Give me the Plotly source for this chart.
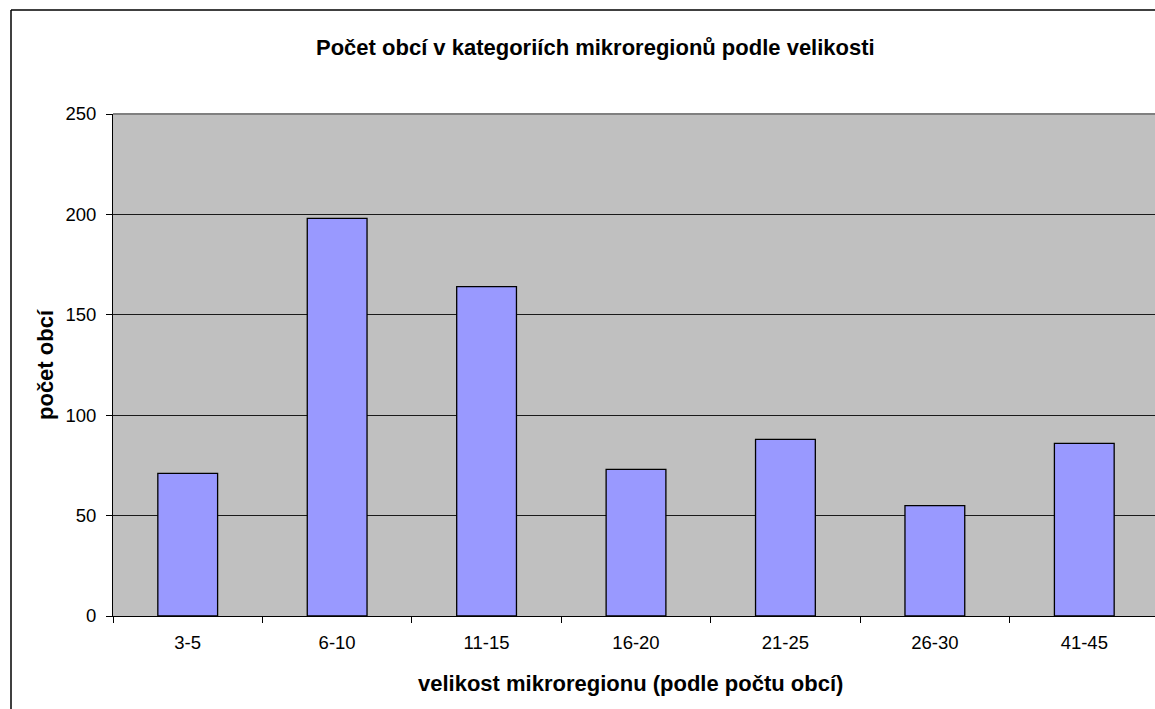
import plotly.graph_objects as go

categories = ["3-5", "6-10", "11-15", "16-20", "21-25", "26-30", "41-45"]
values = [71, 198, 164, 73, 88, 55, 86]
y_ticks = [0, 50, 100, 150, 200, 250]

W, H = 1155, 709
L, T, B, R = 113, 114, 93, 0
pw = W - L - R
ph = H - T - B

fig = go.Figure()
fig.add_trace(go.Bar(
    x=categories, y=values, width=0.4,
    marker=dict(color="#9999FF", line=dict(color="#000000", width=1.3)),
))

def px2x(px):
    return (px - L) / pw

def py2y(py):
    return (H - B - py) / ph

FONT = "Liberation Sans, Arial, sans-serif"

fig.update_layout(
    width=W, height=H,
    margin=dict(l=L, r=R, t=T, b=B, pad=0),
    paper_bgcolor="white",
    plot_bgcolor="#C0C0C0",
    showlegend=False,
    font=dict(family=FONT, color="black", size=18),
    bargap=0.6,
)
fig.add_annotation(text="<b>Počet obcí v kategoriích mikroregionů podle velikosti</b>",
                   xref="paper", yref="paper", x=px2x(595), y=py2y(48),
                   xanchor="center", yanchor="middle", showarrow=False,
                   font=dict(size=22, family=FONT))
fig.add_annotation(text="<b>velikost mikroregionu (podle počtu obcí)</b>",
                   xref="paper", yref="paper", x=px2x(630), y=py2y(684),
                   xanchor="center", yanchor="middle", showarrow=False,
                   font=dict(size=22, family=FONT))
fig.add_annotation(text="<b>počet obcí</b>", textangle=-90,
                   xref="paper", yref="paper", x=px2x(45), y=py2y(365),
                   xanchor="center", yanchor="middle", showarrow=False,
                   font=dict(size=22, family=FONT))
fig.update_xaxes(
    range=[-0.5, 6.5 - 4 / 149.3],
    showline=True, linecolor="black", linewidth=1,
    ticks="outside", tickson="boundaries", ticklen=6, tickcolor="black", tickwidth=1,
    showgrid=False,
    tickfont=dict(size=18.5),
    ticklabelstandoff=10,
)
fig.update_yaxes(
    range=[0, 250], tickvals=y_ticks,
    showline=True, linecolor="black", linewidth=1,
    ticks="outside", ticklen=6, tickcolor="black", tickwidth=1,
    showgrid=True, gridcolor="#1a1a1a", gridwidth=1,
    zeroline=False,
    tickfont=dict(size=18.5),
    ticklabelstandoff=6,
)
# top border of plot area (gray)
fig.add_shape(type="line", xref="paper", yref="paper", x0=0, x1=1.01, y0=1, y1=1,
              line=dict(color="#808080", width=2))
# outer chart border
fig.add_shape(type="line", xref="paper", yref="paper",
              x0=px2x(11), x1=px2x(11), y0=py2y(10), y1=py2y(720),
              line=dict(color="#000000", width=1.5))
fig.add_shape(type="line", xref="paper", yref="paper",
              x0=px2x(11), x1=px2x(1170), y0=py2y(10), y1=py2y(10),
              line=dict(color="#000000", width=1.5))

fig.write_html("out.html", config={"displayModeBar": False},
               post_script="document.body.style.margin='0';document.body.style.overflow='hidden';")
